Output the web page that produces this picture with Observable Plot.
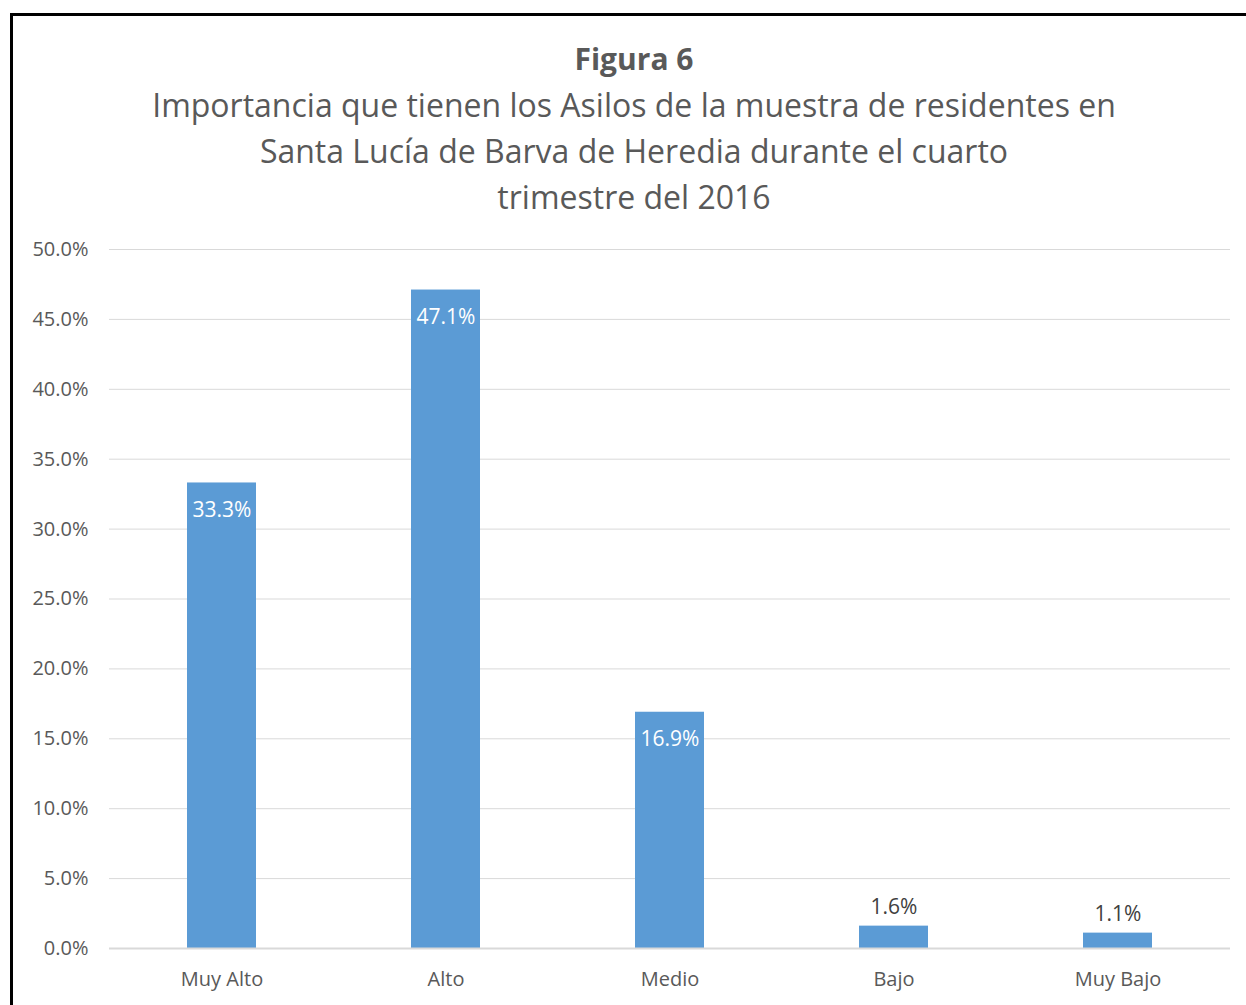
<!DOCTYPE html>
<html>
<head>
<meta charset="utf-8">
<script src="https://cdn.jsdelivr.net/npm/d3@7"></script>
<script src="https://cdn.jsdelivr.net/npm/@observablehq/plot@0.6"></script>
<style>
  html, body { margin: 0; padding: 0; background: #fff; }
  #wrap { position: relative; width: 1246px; height: 1005px; overflow: hidden; font-family: "Open Sans", "DejaVu Sans", sans-serif; }
  #frame { position: absolute; left: 10px; top: 13px; width: 1300px; height: 1100px; border-left: 3px solid #000; border-top: 3px solid #000; }
  #titles { position: absolute; left: 0; top: 36px; width: 1268px; text-align: center; color: #595959; }
  #titles .t1 { font-weight: bold; font-size: 30px; line-height: 46px; color: #595959; }
  #titles .t2 { font-size: 32px; line-height: 46px; }
  #chart { position: absolute; left: 0; top: 0; }
</style>
</head>
<body>
<div id="wrap">
  <div id="frame"></div>
  <div id="titles">
    <div class="t1">Figura 6</div>
    <div class="t2">Importancia que tienen los Asilos de la muestra de residentes en</div>
    <div class="t2">Santa Lucía de Barva de Heredia durante el cuarto</div>
    <div class="t2">trimestre del 2016</div>
  </div>
  <div id="chart"></div>
</div>
<script>
const categories = ["Muy Alto", "Alto", "Medio", "Bajo", "Muy Bajo"];
const values = [33.3, 47.1, 16.9, 1.6, 1.1];
const yTicks = [0, 5, 10, 15, 20, 25, 30, 35, 40, 45, 50];

const data = categories.map((c, i) => ({cat: c, v: values[i]}));
const inside = data.filter(d => d.v >= 10);
const outside = data.filter(d => d.v < 10);
const fmt = v => v.toFixed(1) + "%";

const plot = Plot.plot({
  width: 1246,
  height: 1005,
  marginLeft: 109,
  marginRight: 16,
  marginTop: 249,
  marginBottom: 57,
  style: {fontFamily: "'Open Sans', 'DejaVu Sans', sans-serif", fontSize: "20px", color: "#595959", background: "transparent"},
  x: {domain: categories, paddingInner: 0.69, paddingOuter: 0.345, label: null, tickSize: 0, tickPadding: 23},
  y: {domain: [0, 50], ticks: yTicks, tickFormat: d => d.toFixed(1) + "%", label: null, tickSize: 0, tickPadding: 21},
  marks: [
    Plot.gridY(yTicks.filter(t => t > 0), {stroke: "#d9d9d9", strokeOpacity: 1, strokeWidth: 1}),
    Plot.barY(data, {x: "cat", y: "v", fill: "#5b9bd5"}),
    Plot.ruleY([0], {stroke: "#d9d9d9", strokeWidth: 2}),
    Plot.text(inside, {x: "cat", y: "v", text: d => fmt(d.v), dy: 27, fill: "white", fontSize: 21}),
    Plot.text(outside, {x: "cat", y: "v", text: d => fmt(d.v), dy: -19, fill: "#404040", fontSize: 21})
  ]
});
document.getElementById("chart").appendChild(plot);
</script>
</body>
</html>
